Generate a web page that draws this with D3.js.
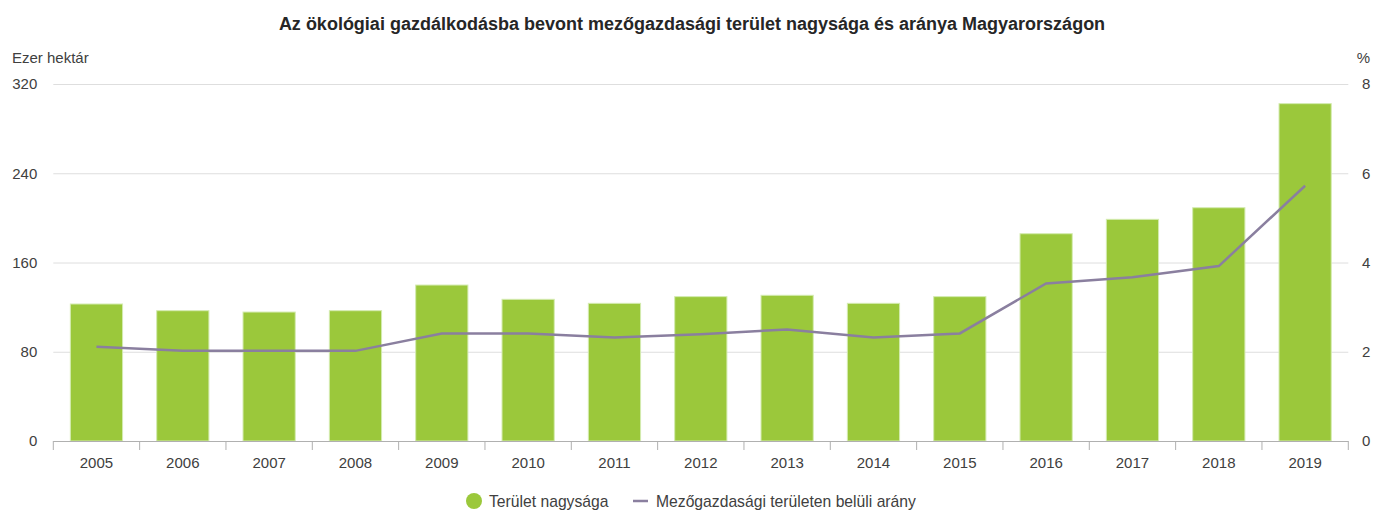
<!DOCTYPE html>
<meta charset="utf-8">
<style>
    body { margin: 0; background: #fff; }
    svg text { font-family: "Liberation Sans", Arial, sans-serif; fill: #404040; }
    .grid line { stroke: #dedede; }
    .grid path { display: none; }
    .bar { fill: #9bc83b; stroke: #d4ebb0; stroke-width: 1; }
    .ratio { fill: none; stroke: #8a7f9f; stroke-width: 2.5; }
</style>
<svg width="1373" height="513"></svg>
<script src="https://cdn.jsdelivr.net/npm/d3@7"></script>
<script>
    var years = ["2005", "2006", "2007", "2008", "2009", "2010", "2011", "2012", "2013", "2014", "2015", "2016", "2017", "2018", "2019"];
    // Terület nagysága, ezer hektár
    var area = [122.8, 116.8, 115.6, 116.8, 139.8, 127.0, 123.4, 129.4, 130.6, 123.4, 129.4, 185.8, 198.7, 209.1, 302.4];
    // Mezőgazdasági területen belüli arány, %
    var ratio = [2.11, 2.02, 2.02, 2.02, 2.41, 2.41, 2.32, 2.39, 2.50, 2.32, 2.41, 3.53, 3.67, 3.92, 5.72];
    var leftTicks = [0, 80, 160, 240, 320];
    var rightTicks = [0, 2, 4, 6, 8];

    var svg = d3.select("svg"),
        margin = { top: 84, right: 24.7, bottom: 72, left: 53.3 },
        width = +svg.attr("width") - margin.left - margin.right,
        height = +svg.attr("height") - margin.top - margin.bottom;

    var x = d3.scaleBand().domain(years).range([0, width]).paddingInner(0.395).paddingOuter(0.1975);
    var y = d3.scaleLinear().domain([0, 320]).range([height, 0]);
    var y2 = d3.scaleLinear().domain([0, 8]).range([height, 0]);

    var g = svg.append("g")
        .attr("transform", "translate(" + margin.left + "," + margin.top + ")");

    // title
    svg.append("text")
        .attr("x", 692).attr("y", 30)
        .attr("text-anchor", "middle")
        .style("font-size", "18px")
        .style("font-weight", "bold")
        .style("fill", "#262626")
        .text("Az ökológiai gazdálkodásba bevont mezőgazdasági terület nagysága és aránya Magyarországon");

    svg.append("text").attr("x", 12).attr("y", 63).style("font-size", "15px").text("Ezer hektár");
    svg.append("text").attr("x", 1370).attr("y", 63).attr("text-anchor", "end").style("font-size", "15px").text("%");

    // gridlines
    g.append("g").attr("class", "grid")
        .call(d3.axisLeft(y).tickValues(leftTicks.slice(1)).tickSize(-width).tickFormat(""));

    // left axis labels
    g.selectAll(".ylab").data(leftTicks).enter().append("text")
        .attr("x", -16).attr("y", function (d) { return y(d); }).attr("dy", "0.35em")
        .attr("text-anchor", "end").style("font-size", "15px")
        .text(function (d) { return d; });

    // right axis labels
    g.selectAll(".y2lab").data(rightTicks).enter().append("text")
        .attr("x", width + 22).attr("y", function (d) { return y2(d); }).attr("dy", "0.35em")
        .attr("text-anchor", "end").style("font-size", "15px")
        .text(function (d) { return d; });

    // bars
    g.selectAll(".bar").data(area).enter().append("rect")
        .attr("class", "bar")
        .attr("x", function (d, i) { return x(years[i]); })
        .attr("width", x.bandwidth())
        .attr("y", function (d) { return y(d); })
        .attr("height", function (d) { return height - y(d); });

    // x axis
    var xa = g.append("g").attr("transform", "translate(0," + height + ")");
    xa.append("line").attr("x1", 0).attr("x2", width).attr("y1", 0.5).attr("y2", 0.5).attr("stroke", "#b0b0b0");
    var bounds = d3.range(years.length + 1).map(function (i) { return i * width / years.length; });
    xa.selectAll(".tk").data(bounds).enter().append("line")
        .attr("x1", function (d) { return d; }).attr("x2", function (d) { return d; })
        .attr("y1", 0).attr("y2", 9).attr("stroke", "#b0b0b0");
    xa.selectAll(".xl").data(years).enter().append("text")
        .attr("x", function (d) { return x(d) + x.bandwidth() / 2; })
        .attr("y", 27).attr("text-anchor", "middle").style("font-size", "15px")
        .text(function (d) { return d; });

    // line
    var line = d3.line()
        .x(function (d, i) { return x(years[i]) + x.bandwidth() / 2; })
        .y(function (d) { return y2(d); });
    g.append("path").datum(ratio).attr("class", "ratio").attr("d", line);

    // legend
    var lg = svg.append("g").attr("transform", "translate(0,501)");
    lg.append("circle").attr("cx", 474).attr("cy", 0).attr("r", 8).attr("fill", "#9bc83b");
    lg.append("text").attr("x", 489).attr("y", 0).attr("dy", "0.35em").style("font-size", "15.7px").text("Terület nagysága");
    lg.append("line").attr("x1", 633).attr("x2", 648).attr("y1", 0).attr("y2", 0).attr("stroke", "#8a7f9f").attr("stroke-width", 2.5);
    lg.append("text").attr("x", 656).attr("y", 0).attr("dy", "0.35em").style("font-size", "15.7px").text("Mezőgazdasági területen belüli arány");
</script>
